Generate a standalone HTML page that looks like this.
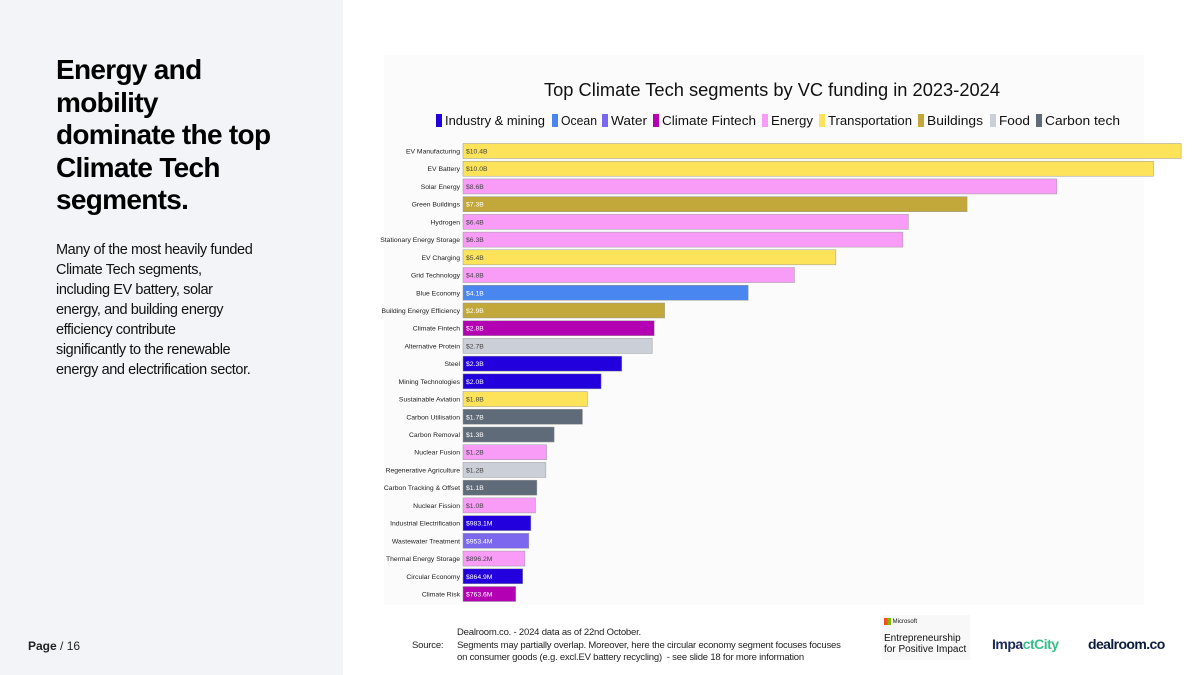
<!DOCTYPE html>
<html><head><meta charset="utf-8">
<style>
body{margin:0;width:1200px;height:675px;background:#fff;font-family:"Liberation Sans",sans-serif;position:relative;overflow:hidden}
#left{position:absolute;left:0;top:0;width:343px;height:675px;background:#f3f4f8}
h1{position:absolute;left:56px;top:54px;margin:0;font-size:28px;line-height:32.5px;font-weight:bold;color:#000;white-space:nowrap;letter-spacing:-0.7px}
#desc{position:absolute;left:56px;top:240px;font-size:14.5px;line-height:20px;color:#111;letter-spacing:-0.4px;white-space:nowrap}
#page{position:absolute;left:28px;top:639px;font-size:12px;color:#222}
#panel{position:absolute;left:384px;top:55px;width:760px;height:550px;background:#fbfbfc}
svg{position:absolute;left:0;top:0}
#foot{position:absolute;left:412px;top:627px;font-size:9.5px;line-height:12.5px;color:#222;letter-spacing:-0.2px}
</style></head><body>
<div id="left"></div>
<h1>Energy and<br>mobility<br>dominate the top<br>Climate Tech<br>segments.</h1>
<div id="desc">Many of the most heavily funded<br>Climate Tech segments,<br>including EV battery, solar<br>energy, and building energy<br>efficiency contribute<br>significantly to the renewable<br>energy and electrification sector.</div>
<div id="page"><b>Page</b> / 16</div>
<div id="panel"></div>
<svg id="chart" width="1200" height="675"></svg>
<div id="foot">
<div style="position:absolute;left:0;top:13px">Source:</div>
<div style="position:absolute;left:45px;top:0;width:420px;white-space:nowrap">Dealroom.co. - 2024 data as of 22nd October.<br>Segments may partially overlap. Moreover, here the circular economy segment focuses focuses<br>on consumer goods (e.g. excl.EV battery recycling)&nbsp; - see slide 18 for more information</div>
</div>
<div style="position:absolute;left:882px;top:615px;width:88px;height:45px;background:#f8f8f8;font-size:10px;line-height:11px;color:#111">
<div style="font-size:6px;margin:2px 0 5px 2px"><span style="display:inline-block;width:7px;height:7px;background:linear-gradient(90deg,#f25022 50%,#7fba00 50%);vertical-align:middle"></span> Microsoft</div>
<div style="margin-left:2px">Entrepreneurship<br>for Positive Impact</div></div>
<div style="position:absolute;left:992px;top:636px;font-size:14px;font-weight:bold;color:#1e2a5a;letter-spacing:-0.5px">Impa<span style="color:#3bbf8a">ctCity</span></div>
<div style="position:absolute;left:1088px;top:636px;font-size:14px;font-weight:bold;color:#0d1b3d;letter-spacing:-0.6px">dealroom.co</div>
<script>
const categories=["EV Manufacturing","EV Battery","Solar Energy","Green Buildings","Hydrogen","Stationary Energy Storage","EV Charging","Grid Technology","Blue Economy","Building Energy Efficiency","Climate Fintech","Alternative Protein","Steel","Mining Technologies","Sustainable Aviation","Carbon Utilisation","Carbon Removal","Nuclear Fusion","Regenerative Agriculture","Carbon Tracking & Offset","Nuclear Fission","Industrial Electrification","Wastewater Treatment","Thermal Energy Storage","Circular Economy","Climate Risk"];
const values=[10.4,10.0,8.6,7.3,6.45,6.37,5.4,4.8,4.13,2.92,2.77,2.74,2.3,2.0,1.8,1.73,1.32,1.21,1.2,1.07,1.05,0.9831,0.9534,0.8962,0.8649,0.7636];
const valueLabels=["$10.4B","$10.0B","$8.6B","$7.3B","$6.4B","$6.3B","$5.4B","$4.8B","$4.1B","$2.9B","$2.8B","$2.7B","$2.3B","$2.0B","$1.8B","$1.7B","$1.3B","$1.2B","$1.2B","$1.1B","$1.0B","$983.1M","$953.4M","$896.2M","$864.9M","$763.6M"];
const groups=["Transportation","Transportation","Energy","Buildings","Energy","Energy","Transportation","Energy","Ocean","Buildings","Climate Fintech","Food","Industry & mining","Industry & mining","Transportation","Carbon tech","Carbon tech","Energy","Food","Carbon tech","Energy","Industry & mining","Water","Energy","Industry & mining","Climate Fintech"];
const legendNames=["Industry & mining","Ocean","Water","Climate Fintech","Energy","Transportation","Buildings","Food","Carbon tech"];
const legendColors=["#2200dd","#4a86f0","#7b68ee","#b300b3","#f89cf8","#fde35a","#c2a73b","#cbcfd7","#5f6b78"];
const svg=document.getElementById('chart'),NS='http://www.w3.org/2000/svg';
function mk(t,a,p){const e=document.createElementNS(NS,t);for(const k in a)e.setAttribute(k,a[k]);(p||svg).appendChild(e);return e;}
const x0=463,xPerB=69.05,y0=151,step=17.72,bh=15;
const xs=v=>x0+v*xPerB, ys=i=>y0+i*step;
const t=mk('text',{x:772,y:96,'text-anchor':'middle','font-size':18.5,fill:'#111',textLength:456,lengthAdjust:'spacingAndGlyphs'});
t.textContent='Top Climate Tech segments by VC funding in 2023-2024';


const lx=[436,552,602,653,762,819,918,990,1036],lw=[100,36,36,94,42,84,56,31,75];
legendNames.forEach((n,i)=>{
 const g=mk('g',{});
 
 
 mk('rect',{x:lx[i],y:114,width:6,height:13,fill:legendColors[i]},g);
 const tx=mk('text',{x:lx[i]+9,y:125,'font-size':12.5,fill:'#111',textLength:lw[i],lengthAdjust:'spacingAndGlyphs'},g);tx.textContent=n;
});
categories.forEach((c,i)=>{
 const col=legendColors[legendNames.indexOf(groups[i])];
 const y=ys(i);
 const r=mk('rect',{x:x0,y:y-bh/2,width:xs(values[i])-x0,height:bh,fill:col,stroke:'#999','stroke-width':0.5});
 
 
 const l=mk('text',{x:460,y:y+2.5,'text-anchor':'end','font-size':6.8,fill:'#222'});l.textContent=c;
 
 
 const dark=['Industry & mining','Ocean','Water','Climate Fintech','Carbon tech','Buildings'].includes(groups[i]);
 const v=mk('text',{x:466,y:y+2.5,'font-size':6.8,fill:dark?'#fff':'#444'});v.textContent=valueLabels[i];
 
 
});
</script>
</body></html>
